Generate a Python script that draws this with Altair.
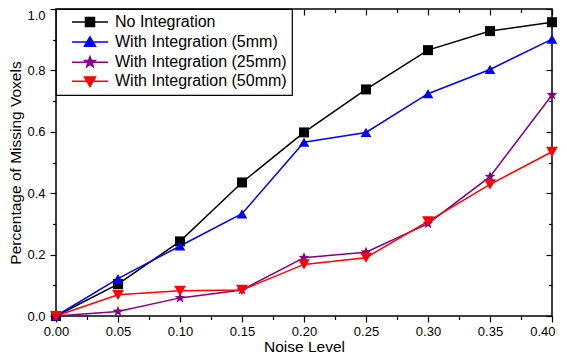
import math
import altair as alt
import pandas as pd

# ---- data ----
noise = [0.00, 0.05, 0.10, 0.15, 0.20, 0.25, 0.30, 0.35, 0.40]
no_integration = [0.0, 0.104, 0.243, 0.435, 0.598, 0.738, 0.866, 0.928, 0.957]
with_5mm = [0.0, 0.122, 0.228, 0.333, 0.566, 0.598, 0.724, 0.803, 0.902]
with_25mm = [0.0, 0.015, 0.059, 0.085, 0.190, 0.208, 0.301, 0.454, 0.720]
with_50mm = [0.0, 0.069, 0.082, 0.085, 0.168, 0.190, 0.308, 0.429, 0.535]

series_names = [
    "No Integration",
    "With Integration (5mm)",
    "With Integration (25mm)",
    "With Integration (50mm)",
]
series_values = [no_integration, with_5mm, with_25mm, with_50mm]
series_colors = ["#000000", "#0000FF", "#800080", "#FF0000"]
marker_sizes = [100, 140, 135, 140]

x_major = [0.00, 0.05, 0.10, 0.15, 0.20, 0.25, 0.30, 0.35, 0.40]
x_minor = [0.025, 0.075, 0.125, 0.175, 0.225, 0.275, 0.325, 0.375]
y_major = [0.0, 0.2, 0.4, 0.6, 0.8, 1.0]
y_minor = [0.1, 0.3, 0.5, 0.7, 0.9]

FONT = "Liberation Sans"

rows = []
for name, vals in zip(series_names, series_values):
    for i, (xv, yv) in enumerate(zip(noise, vals)):
        rows.append({"series": name, "noise": xv, "value": yv, "idx": i})
df = pd.DataFrame(rows)


# ---- marker glyphs (custom SVG paths in the unit box) ----
def _star(R=1.0, r=0.42):
    pts = []
    for k in range(10):
        ang = math.radians(-90 + 36 * k)
        rad = R if k % 2 == 0 else r
        pts.append((rad * math.cos(ang), rad * math.sin(ang)))
    return "M" + "L".join(f"{px:.3f},{py:.3f}" for px, py in pts) + "Z"


series_shapes = ["square", "triangle-up", _star(), "triangle-down"]

# legend glyphs: a line through the marker
L = 3.6
legend_paths = [
    f"M-{L},0H{L}M-0.9,-0.9H0.9V0.9H-0.9Z",
    f"M-{L},0H{L}M0,-1.05L1.1,0.85H-1.1Z",
    f"M-{L},0H{L}" + _star(1.1, 0.46),
    f"M-{L},0H{L}M0,1.05L1.1,-0.85H-1.1Z",
]

xs = alt.Scale(domain=[0, 0.4], nice=False, zero=False)
ys = alt.Scale(domain=[0, 1], nice=False, zero=False)
cscale = alt.Scale(domain=series_names, range=series_colors)

tick_common = dict(tickColor="black", tickWidth=1.2, domain=False, grid=False)
bare = dict(labels=False, title=None, minExtent=0, maxExtent=0, **tick_common)

ax_bottom = alt.Axis(
    orient="bottom", values=x_major, format=".2f", tickSize=6, labelPadding=3.5,
    labelFont=FONT, labelFontSize=13, labelColor="black", labelFlush=False,
    labelAlign={"condition": {"test": "datum.value >= 0.4", "value": "right"}, "value": "center"},
    labelOffset={"condition": {"test": "datum.value >= 0.4", "value": 3}, "value": 0},
    labelOverlap=False, title="Noise Level", titleFont=FONT, titleFontSize=15.5,
    titleFontWeight="normal", titleColor="black", titlePadding=1, **tick_common)
ax_left = alt.Axis(
    orient="left", values=y_major, format=".1f", tickSize=6, labelPadding=5,
    labelFont=FONT, labelFontSize=13, labelColor="black", labelOverlap=False,
    labelBaseline={"condition": {"test": "datum.value >= 1", "value": "top"}, "value": "middle"},
    title="Percentage of Missing Voxels", titleFont=FONT, titleFontSize=15.5,
    titleFontWeight="normal", titleColor="black", titlePadding=3, **tick_common)
ax_bottom_minor = alt.Axis(orient="bottom", values=x_minor, tickSize=3.5, **bare)
ax_left_minor = alt.Axis(orient="left", values=y_minor, tickSize=3.5, **bare)
ax_top = alt.Axis(orient="top", values=x_major, tickSize=6, offset=-6, **bare)
ax_right = alt.Axis(orient="right", values=y_major, tickSize=6, offset=-6, **bare)
ax_top_minor = alt.Axis(orient="top", values=x_minor, tickSize=3.5, offset=-3.5, **bare)
ax_right_minor = alt.Axis(orient="right", values=y_minor, tickSize=3.5, offset=-3.5, **bare)


def X(axis):
    return alt.X("noise:Q", scale=xs, axis=axis)


def Y(axis):
    return alt.Y("value:Q", scale=ys, axis=axis)


base = alt.Chart(df)

lines = base.mark_line(strokeWidth=1.5).encode(
    X(ax_bottom), Y(ax_left),
    color=alt.Color("series:N", scale=cscale, legend=None),
    order="idx:Q",
)

points = base.mark_point(filled=True, opacity=1).encode(
    X(None), Y(None),
    color=alt.Color("series:N", scale=cscale, legend=None),
    shape=alt.Shape("series:N", scale=alt.Scale(domain=series_names, range=series_shapes), legend=None),
    size=alt.Size("series:O", scale=alt.Scale(domain=series_names, range=marker_sizes), legend=None),
)

leg = alt.Legend(
    title=None, orient="top-left", offset=0, padding=5, strokeColor="black",
    fillColor="white", labelFont=FONT, labelFontSize=16, labelColor="black",
    symbolSize=100, symbolStrokeWidth=1.5, symbolOffset=21, labelOffset=17,
    rowPadding=3.1, symbolOpacity=1, labelLimit=0, cornerRadius=0,
)

# invisible marks that only carry the legend (kept at an interior point so
# their wide glyphs do not widen the chart's bounds)
legend_layer = base.mark_point(filled=True, opacity=0, size=1).encode(
    X(None), Y(None),
    fill=alt.Fill("series:N", scale=alt.Scale(domain=series_names, range=series_colors), legend=leg),
    stroke=alt.Stroke("series:N", scale=alt.Scale(domain=series_names, range=series_colors), legend=leg),
    shape=alt.Shape("series:N", scale=alt.Scale(domain=series_names, range=legend_paths), legend=leg),
).transform_filter(alt.datum.idx == 4)

minor_axes = base.mark_point(opacity=0, size=1).encode(X(ax_bottom_minor), Y(ax_left_minor)).transform_filter(alt.datum.idx == 4)
mirror_axes = base.mark_point(opacity=0, size=1).encode(X(ax_top), Y(ax_right)).transform_filter(alt.datum.idx == 4)
mirror_minor = base.mark_point(opacity=0, size=1).encode(X(ax_top_minor), Y(ax_right_minor)).transform_filter(alt.datum.idx == 4)

chart = (
    alt.layer(lines, points, legend_layer, minor_axes, mirror_axes, mirror_minor)
    .resolve_scale(shape="independent", fill="independent", stroke="independent", size="independent")
    .resolve_axis(x="independent", y="independent")
    .properties(width=496, height=307, padding={"left": 0, "top": 0, "right": 0, "bottom": 0},
                background="white")
    .configure_view(stroke="black", strokeWidth=1.5)
    .configure_legend(strokeWidth=1.2)
)

chart.save("out.html", embed_options={"renderer": "svg", "actions": False})
